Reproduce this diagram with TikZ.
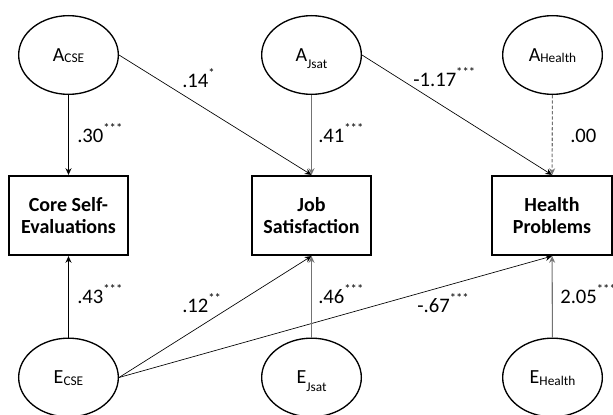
\documentclass[tikz,border=0pt]{standalone}
\usepackage{fontspec}
\setmainfont{Carlito}
\usetikzlibrary{arrows.meta,shapes.geometric}
\newcommand\sbs[2][1pt]{\raisebox{-#1}[0pt][0pt]{\fontsize{10}{10}\selectfont #2}}
\newcommand\sigst[1]{\raisebox{7.5pt}{\fontsize{9.5}{9.5}\selectfont #1}}
\begin{document}
\begin{tikzpicture}[x=0.75pt,y=-0.75pt,
  lat/.style={ellipse,draw,line width=1pt,minimum width=74.75pt,minimum height=59pt,inner sep=0pt,font=\fontsize{15}{17}\selectfont},
  obs/.style={rectangle,draw,line width=1.4pt,minimum width=89.5pt,minimum height=59.5pt,inner sep=0pt,align=center,font=\fontsize{15}{17}\selectfont\bfseries},
  arr/.style={-{Stealth[length=5pt,width=4.5pt]},line width=0.5pt,draw=black},
  garr/.style={arr,draw=black!55,line width=0.8pt},
  darr/.style={garr,dash pattern=on 2.5pt off 1.5pt},
  lab/.style={anchor=base west,inner sep=0pt,font=\fontsize{15.5}{17}\selectfont}]
\clip (0,0) rectangle (613,414);
\useasboundingbox (0,0) rectangle (613,414);
% latent variables
\node[lat] (acse) at (68.5,55) {A\sbs{CSE}};
\node[lat] (ajsat) at (311.5,55) {A\sbs[5.5pt]{Jsat}};
\node[lat] (ahealth) at (552.5,55) {A\sbs{Health}};
\node[lat] (ecse) at (68.5,377.5) {E\sbs{CSE}};
\node[lat] (ejsat) at (311.5,377.5) {E\sbs[5.5pt]{Jsat}};
\node[lat] (ehealth) at (552.5,377.5) {E\sbs{Health}};
% observed variables
\node[obs] (cse) at (68.5,215.5) {Core Self-\\Evaluations};
\node[obs] (job) at (311.5,215.5) {Job\\Satisfaction};
\node[obs] (health) at (552,215.5) {Health\\Problems};
% paths
\draw[arr] (acse) -- (cse);
\draw[arr] (acse.east) -- (job.north);
\draw[garr] (ajsat) -- (job);
\draw[arr] (ajsat.east) -- (health.north);
\draw[darr] (ahealth) -- (health);
\draw[arr] (ecse) -- (cse);
\draw[arr] (ecse.east) -- (job.south);
\draw[arr] (ecse.east) -- (health.south);
\draw[garr] (ejsat) -- (job);
\draw[garr] (ehealth) -- (health);
% labels
\node[lab] (l1) at (77,142) {.30\sigst{***}};
\node[lab] (l2) at (182,87) {.14\sigst{*}};
\node[lab] (l3) at (318,142) {.41\sigst{***}};
\node[lab] (l4) at (413,86) {-1.17\sigst{***}};
\node[lab] (l5) at (570,142) {.00};
\node[lab] (l6) at (77,303) {.43\sigst{***}};
\node[lab] (l7) at (182,312) {.12\sigst{**}};
\node[lab] (l8) at (318,303) {.46\sigst{***}};
\node[lab] (l9) at (417,312) {-.67\sigst{***}};
\node[lab] (l10) at (560,303) {2.05\sigst{***}};
\end{tikzpicture}
\end{document}
